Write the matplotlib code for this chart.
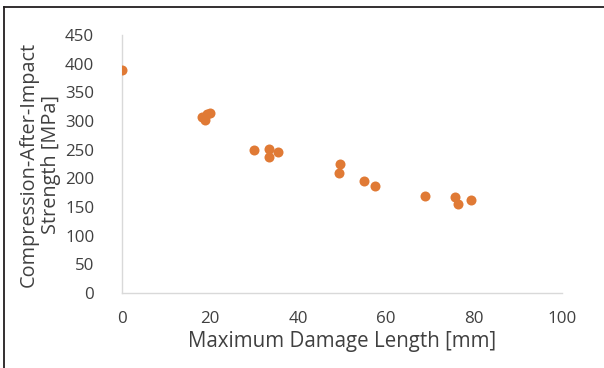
import matplotlib.pyplot as plt
from matplotlib.lines import Line2D

# maximum damage length [mm] vs compression-after-impact strength [MPa]
damage_len = [0.0, 18.2, 19.4, 20.0, 18.9, 30.1, 33.4, 33.4, 35.5,
              49.5, 49.4, 55.0, 57.4, 68.8, 75.6, 76.4, 79.3]
cai_strength = [389, 307, 312, 314, 302, 250, 251, 238, 246,
                225, 209, 195, 186, 170, 167, 155, 162]

x_ticks = [0, 20, 40, 60, 80, 100]
y_ticks = [0, 50, 100, 150, 200, 250, 300, 350, 400, 450]

plt.rcParams['font.family'] = ['Open Sans', 'DejaVu Sans']
txt = '#404040'

fig = plt.figure(figsize=(6.04, 3.68), dpi=100)
ax = fig.add_axes([122/604, 75/368, 440/604, 258/368])

ax.scatter(damage_len, cai_strength, s=52, color='#E07A35', zorder=3, linewidths=0)

ax.set_xlim(0, 100)
ax.set_ylim(0, 450)
ax.set_xticks(x_ticks)
ax.set_yticks(y_ticks)
ax.tick_params(axis='both', length=0, labelsize=12.2, colors=txt)
ax.tick_params(axis='x', pad=13)
ax.tick_params(axis='y', pad=20)

for side in ['top', 'right']:
    ax.spines[side].set_visible(False)
for side in ['left', 'bottom']:
    ax.spines[side].set_color('#d9d9d9')
    ax.spines[side].set_linewidth(1.0)

ax.set_xlabel("Maximum Damage Length [mm]", fontsize=14.8, color=txt, labelpad=3)
ax.set_ylabel("Compression-After-Impact\nStrength [MPa]", fontsize=14.3, color=txt,
              linespacing=1.2)
ax.yaxis.set_label_coords(-0.138, 0.5)

# frame lines (left and top only, like the original figure)
fig.add_artist(Line2D([4/604, 4/604], [0, 1 - 7/368], transform=fig.transFigure,
                      color='#231f20', linewidth=1.3))
fig.add_artist(Line2D([4/604, 1], [1 - 7/368, 1 - 7/368], transform=fig.transFigure,
                      color='#231f20', linewidth=1.3))

plt.savefig("out.png", dpi=100)
